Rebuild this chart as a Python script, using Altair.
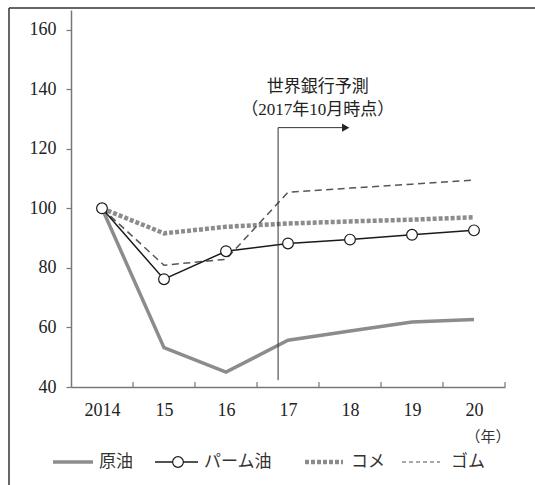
import altair as alt
import pandas as pd

# ---- data ----
years = ["2014", "15", "16", "17", "18", "19", "20"]
crude = [100, 53.2, 45.0, 55.7, 58.8, 61.8, 62.7]
palm = [100, 76.2, 85.6, 88.2, 89.5, 91.1, 92.6]
rice = [100, 91.6, 93.8, 94.9, 95.6, 96.2, 97.0]
rubber = [100, 80.9, 82.9, 105.4, 106.8, 108.1, 109.5]
series_names = ["原油", "パーム油", "コメ", "ゴム"]
y_ticks = [40, 60, 80, 100, 120, 140, 160]

# forecast annotation (in data units)
fc_x = 2.84
fc_y_bottom = 42.3
fc_y_top = 127.1
fc_x_arrow = 3.93
fc_label1 = "世界銀行予測"
fc_label2 = "（2017年10月時点）"

FONT = "Liberation Serif"
MIX = "Liberation Serif, Noto Sans CJK JP"
JP = "Noto Sans CJK JP"

idx = list(range(len(years)))
rows = []
for name, vals in zip(series_names, [crude, palm, rice, rubber]):
    for i, v in zip(idx, vals):
        rows.append({"series": name, "i": i, "year": years[i], "v": v})
df = pd.DataFrame(rows)

xscale = alt.Scale(domain=[-0.5, len(years) - 0.5], nice=False, zero=False)
yscale = alt.Scale(domain=[40, 166.6], nice=False, zero=False)
label_expr = "[" + ",".join(f"'{y}'" for y in years) + "][datum.value]"

X = alt.X("i:Q", scale=xscale,
          axis=alt.Axis(values=idx, labelExpr=label_expr, ticks=False, grid=False,
                        title=None, domainColor="#777", domainWidth=1.5,
                        labelFont=FONT, labelFontSize=18, labelColor="#222",
                        labelPadding=14, labelAngle=0))
Y = alt.Y("v:Q", scale=yscale,
          axis=alt.Axis(values=y_ticks, grid=False, title=None, domainColor="#777",
                        domainWidth=1.5, tickColor="#777", tickSize=5, tickWidth=1.2,
                        labelFont=FONT, labelFontSize=18, labelColor="#222",
                        labelPadding=10))

def series(name):
    return alt.Chart(df).transform_filter(alt.datum.series == name)

crude_l = series("原油").mark_line(color="#8c8c8c", strokeWidth=3.5).encode(x=X, y=Y)
rice_l = series("コメ").mark_line(color="#8c8c8c", strokeWidth=4.5, strokeDash=[4, 2]).encode(x=X, y=Y)
rubber_l = series("ゴム").mark_line(color="#555555", strokeWidth=1.5, strokeDash=[7, 4.5]).encode(x=X, y=Y)
palm_l = series("パーム油").mark_line(color="#1a1a1a", strokeWidth=1.5).encode(x=X, y=Y)
palm_p = series("パーム油").mark_point(shape="circle", filled=True, fill="white", stroke="#1a1a1a",
                                    strokeWidth=1.2, size=115, opacity=1).encode(x=X, y=Y)

# x-axis ticks at band boundaries (pointing up)
bounds = pd.DataFrame({"b": [i + 0.5 for i in idx]})
xticks = alt.Chart(bounds).mark_rule(color="#777", strokeWidth=1.2).encode(
    x=alt.X("b:Q", scale=xscale), y=alt.value(377), y2=alt.value(372))

# forecast annotation
fc_df = pd.DataFrame({"x": [fc_x], "x2": [fc_x_arrow], "yb": [fc_y_bottom], "yt": [fc_y_top]})
fc_v = alt.Chart(fc_df).mark_rule(color="#333", strokeWidth=1).encode(
    x=alt.X("x:Q", scale=xscale), y=alt.Y("yb:Q", scale=yscale), y2="yt:Q")
fc_h = alt.Chart(fc_df).mark_rule(color="#333", strokeWidth=1).encode(
    x=alt.X("x:Q", scale=xscale), x2="x2:Q", y=alt.Y("yt:Q", scale=yscale))
fc_arrow = alt.Chart(fc_df).mark_point(shape="triangle-right", filled=True, color="#222",
                                       size=70, opacity=1).encode(
    x=alt.X("x2:Q", scale=xscale), y=alt.Y("yt:Q", scale=yscale))
txt_df = pd.DataFrame({"x": [3.48, 3.48], "y": [140.6, 133.0], "t": [fc_label1, fc_label2]})
fc_txt = alt.Chart(txt_df).mark_text(font=MIX, fontSize=17, color="#222", align="center",
                                     baseline="middle").encode(
    x=alt.X("x:Q", scale=xscale), y=alt.Y("y:Q", scale=yscale), text="t:N")

# unit label
unit = alt.Chart(pd.DataFrame({"t": ["（年）"]})).mark_text(
    font=JP, fontSize=15, color="#333", align="center", baseline="middle").encode(
    x=alt.value(417), y=alt.value(427), text="t:N")

# frame lines (top and left)
frame_top = alt.Chart(pd.DataFrame({"a": [0]})).mark_rule(color="#333", strokeWidth=1.5).encode(
    x=alt.value(-62), x2=alt.value(464), y=alt.value(-2))
frame_left = alt.Chart(pd.DataFrame({"a": [0]})).mark_rule(color="#333", strokeWidth=1.5).encode(
    x=alt.value(-62), y=alt.value(-2), y2=alt.value(476))

# manual legend
LY = 452
def seg(x1, x2, **kw):
    return alt.Chart(pd.DataFrame({"a": [0]})).mark_rule(**kw).encode(
        x=alt.value(x1), x2=alt.value(x2), y=alt.value(LY))

def ltxt(x, t):
    return alt.Chart(pd.DataFrame({"t": [t]})).mark_text(
        font=JP, fontSize=17, color="#333", align="left", baseline="middle").encode(
        x=alt.value(x), y=alt.value(LY), text="t:N")

leg = [
    seg(-18, 22, color="#8c8c8c", strokeWidth=3.5),
    ltxt(28, series_names[0]),
    seg(84, 127, color="#1a1a1a", strokeWidth=1.5),
    alt.Chart(pd.DataFrame({"a": [0]})).mark_point(shape="circle", filled=True, fill="white",
                                                   stroke="#1a1a1a", strokeWidth=1.2, size=115,
                                                   opacity=1).encode(x=alt.value(107), y=alt.value(LY)),
    ltxt(133, series_names[1]),
    seg(234, 272, color="#8c8c8c", strokeWidth=4.5, strokeDash=[4, 2]),
    ltxt(280, series_names[2]),
    seg(331, 369, color="#555555", strokeWidth=1.2, strokeDash=[4, 3]),
    ltxt(380, series_names[3]),
]

chart = alt.layer(
    frame_top, frame_left, xticks, crude_l, rice_l, rubber_l, palm_l, palm_p,
    fc_v, fc_h, fc_arrow, fc_txt, unit, *leg
).properties(
    width=434, height=377,
    autosize=alt.AutoSizeParams(type="none"),
    padding={"left": 71, "top": 10, "right": 30, "bottom": 98},
    background="white",
).configure_view(stroke=None)

chart.save("out.html", embed_options={"renderer": "svg", "actions": False})
